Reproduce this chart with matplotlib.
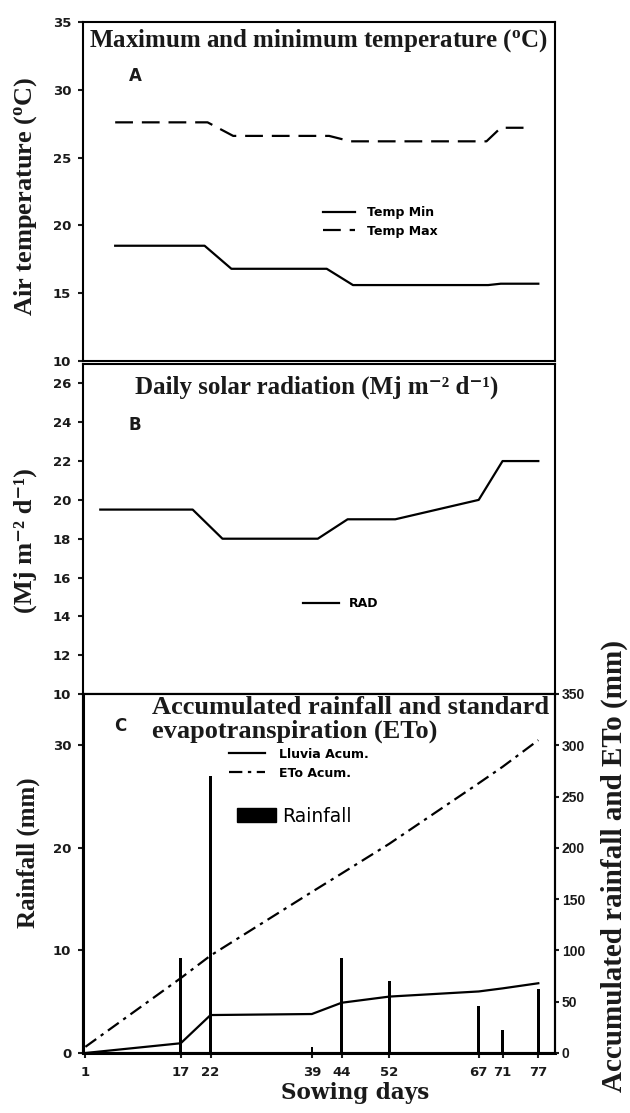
import matplotlib
matplotlib.use('Agg')
import matplotlib.pyplot as plt
from matplotlib.patches import Patch

# ---------------- data ----------------
tmax_days = [6, 21.5, 25.8, 41.9, 45.5, 68.3, 70.7, 75.7]
temp_max = [27.6, 27.6, 26.6, 26.6, 26.2, 26.2, 27.2, 27.2]
tmin_days = [6, 21, 25.5, 41.5, 45.9, 68.6, 70.7, 77]
temp_min = [18.5, 18.5, 16.8, 16.8, 15.6, 15.6, 15.7, 15.7]

rad_days = [3.5, 19, 24, 40, 45, 53, 67, 71, 77]
rad = [19.5, 19.5, 18.0, 18.0, 19.0, 19.0, 20.0, 22.0, 22.0]

sowing_days = [1, 17, 22, 39, 44, 52, 67, 71, 77]
rainfall = [0, 9.3, 27, 0.6, 9.3, 7.0, 4.6, 2.2, 6.2]
lluvia_acum = [0, 9.5, 37, 38, 49, 55, 60, 63, 68]
eto_acum = [6, 73, 95, 157, 175, 204, 263, 279, 305]

temp_ticks = [10, 15, 20, 25, 30, 35]
rad_ticks = [10, 12, 14, 16, 18, 20, 22, 24, 26]
rain_ticks = [0, 10, 20, 30]
acum_ticks = [0, 50, 100, 150, 200, 250, 300, 350]

# ---------------- style ----------------
WIDE = ['DejaVu Sans']
ARIAL = ['Liberation Sans', 'DejaVu Sans']
SERIF = ['Liberation Serif', 'DejaVu Serif']
plt.rcParams['font.family'] = WIDE
plt.rcParams['font.weight'] = 'bold'
plt.rcParams['mathtext.fontset'] = 'custom'
plt.rcParams['mathtext.rm'] = 'Liberation Serif:bold'
plt.rcParams['mathtext.bf'] = 'Liberation Serif:bold'
plt.rcParams['mathtext.it'] = 'Liberation Serif:bold'
TXT = '#1a1a1a'

W, H = 630, 1113
fig = plt.figure(figsize=(6.3, 11.13), dpi=100)


def rect(l, t, r, b):
    return [l / W, 1 - b / H, (r - l) / W, (b - t) / H]


def ftext(x, y, s, **kw):
    fig.text(x / W, 1 - y / H, s, color=TXT, **kw)


axA = fig.add_axes(rect(83, 22, 555, 361))
axB = fig.add_axes(rect(83, 364, 555, 694))
axC = fig.add_axes(rect(83, 694, 555, 1053))
axC2 = axC.twinx()

XLIM = (0.6, 79.8)
for ax in (axA, axB, axC, axC2):
    ax.set_xlim(*XLIM)
    for s in ax.spines.values():
        s.set_linewidth(1.5)
    ax.tick_params(labelsize=9.5, length=3.5, width=1.5, pad=5, colors=TXT)

LEG = dict(family=WIDE, weight='bold', size=9)

# ---------------- panel A ----------------
lmin, = axA.plot(tmin_days, temp_min, color='k', lw=1.6)
lmax, = axA.plot(tmax_days, temp_max, color='k', lw=1.6, ls=(0, (8, 4)))
axA.set_ylim(10, 35)
axA.set_yticks(temp_ticks)
axA.set_xticks([])
axA.legend([lmin, lmax], ['Temp Min', 'Temp Max'], loc='center left',
           bbox_to_anchor=(0.508, 0.41), frameon=False, borderpad=0,
           borderaxespad=0, handlelength=2.56, handletextpad=1.0,
           labelspacing=0.45, prop=LEG)

# ---------------- panel B ----------------
lrad, = axB.plot(rad_days, rad, color='k', lw=1.6)
axB.set_ylim(10, 27)
axB.set_yticks(rad_ticks)
axB.set_xticks([])
axB.legend([lrad], ['RAD'], loc='center left', bbox_to_anchor=(0.466, 0.273),
           frameon=False, borderpad=0, borderaxespad=0, handlelength=2.9,
           handletextpad=0.8, prop=LEG)

# ---------------- panel C ----------------
axC.bar(sowing_days, rainfall, width=0.45, color='k', zorder=3)
axC.set_ylim(0, 35)
axC.set_yticks(rain_ticks)
axC.set_xticks(sowing_days)
axC.set_xticklabels([str(d) for d in sowing_days])
axC.tick_params(axis='x', pad=5.5)
axC.spines['left'].set_linewidth(2.2)
axC.spines['bottom'].set_linewidth(2.2)

ll, = axC2.plot(sowing_days, lluvia_acum, color='k', lw=1.6)
le, = axC2.plot(sowing_days, eto_acum, color='k', lw=1.6, ls=(0, (6, 2.5, 1.5, 2.5)))
axC2.set_ylim(0, 350)
axC2.set_yticks(acum_ticks)
axC2.tick_params(axis='y', length=3, pad=2)
for lab in axC2.get_yticklabels():
    lab.set_fontfamily(ARIAL)
    lab.set_fontsize(10)
leg1 = axC2.legend([ll, le], ['Lluvia Acum.', 'ETo Acum.'], loc='center left',
                   bbox_to_anchor=(0.309, 0.806), frameon=False, borderpad=0,
                   borderaxespad=0, handlelength=2.9, handletextpad=1.1,
                   labelspacing=0.5, prop=LEG)
axC2.add_artist(leg1)
axC2.legend([Patch(color='k')], ['Rainfall'], loc='center left',
            bbox_to_anchor=(0.326, 0.660), frameon=False, borderpad=0,
            borderaxespad=0, handlelength=2.1, handleheight=0.7,
            handletextpad=0.3, prop=dict(family=WIDE, weight='normal', size=13.5))

# ---------------- texts ----------------
ftext(319, 41, r'Maximum and minimum temperature ($^{\mathbf{o}}$C)', family=SERIF,
      weight='bold', size=18, ha='center', va='center')
ftext(317, 387, 'Daily solar radiation (Mj m\u207b\u00b2 d\u207b\u00b9)',
      family=SERIF, weight='bold', size=18, ha='center', va='center')
ftext(152, 707, 'Accumulated rainfall and standard', family=SERIF, weight='bold',
      size=19, ha='left', va='center')
ftext(152, 731, 'evapotranspiration (ETo)', family=SERIF, weight='bold',
      size=19, ha='left', va='center')

ftext(135, 76, 'A', family=WIDE, weight='bold', size=12, ha='center', va='center')
ftext(135, 425, 'B', family=WIDE, weight='bold', size=12, ha='center', va='center')
ftext(120, 726, 'C', family=WIDE, weight='bold', size=12, ha='center', va='center')

ftext(26, 196, r'Air temperature ($^{\mathbf{o}}$C)', family=SERIF, weight='bold',
      size=19, rotation=90, ha='center', va='center')
ftext(25, 541, '(Mj m\u207b\u00b2 d\u207b\u00b9)', family=SERIF, weight='bold',
      size=19, rotation=90, ha='center', va='center')
ftext(28, 853, 'Rainfall (mm)', family=SERIF, weight='bold', size=18,
      rotation=90, ha='center', va='center')
ftext(614, 866, 'Accumulated rainfall and ETo (mm)', family=SERIF, weight='bold',
      size=21, rotation=90, ha='center', va='center')
ftext(355, 1093, 'Sowing days', family=['DejaVu Serif'], weight='bold', size=15.5,
      ha='center', va='center')

fig.savefig('out.png', dpi=100)
